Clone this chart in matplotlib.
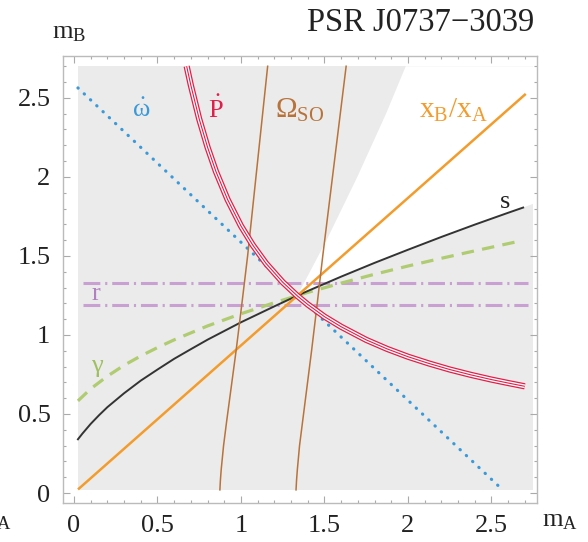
import numpy as np
import matplotlib.pyplot as plt
from matplotlib.ticker import MultipleLocator, FixedLocator, FixedFormatter

plt.rcParams['font.family'] = ['Liberation Serif', 'DejaVu Serif']
plt.rcParams['mathtext.fontset'] = 'custom'
plt.rcParams['mathtext.rm'] = 'Liberation Serif'
plt.rcParams['mathtext.it'] = 'Liberation Serif:italic'
plt.rcParams['mathtext.bf'] = 'Liberation Serif:bold'

# omega-dot: total mass line
omdot_mA = [0.024, 2.567]
omdot_mB = [2.563, 0.02]

# P-dot (orbital decay)
pdot_mA = [0.675, 0.70, 0.75, 0.80, 0.85, 0.92, 1.00, 1.07, 1.15, 1.25, 1.338,
           1.40, 1.50, 1.60, 1.75, 1.875, 2.00, 2.125, 2.25, 2.375, 2.50, 2.60, 2.70]
pdot_mB = [2.70, 2.58, 2.367, 2.188, 2.035, 1.857, 1.69, 1.57, 1.453, 1.334, 1.247,
           1.193, 1.116, 1.052, 0.969, 0.912, 0.8625, 0.82, 0.7815, 0.748, 0.7177, 0.696, 0.675]

# Omega_SO: two bounding curves
so_mB = [0.02, 0.08, 0.15, 0.3, 0.45, 0.6, 0.9, 1.2, 1.5, 1.8, 2.1, 2.4, 2.7]
so_lo_mA = [0.874, 0.877, 0.882, 0.896, 0.914, 0.933, 0.971, 1.006, 1.04, 1.07, 1.10, 1.13, 1.16]
so_hi_mA = [1.330, 1.333, 1.338, 1.351, 1.369, 1.387, 1.423, 1.457, 1.49, 1.525, 1.56, 1.595, 1.63]

# mass ratio x_B/x_A
ratio_mA = [0.03, 2.70]
ratio_mB = [0.028, 2.52]

# Shapiro s
s_mA = [0.024, 0.05, 0.1, 0.15, 0.2, 0.3, 0.4, 0.5, 0.6, 0.7, 0.8, 1.0, 1.2, 1.338, 1.4,
        1.6, 1.8, 2.0, 2.2, 2.4, 2.6, 2.69]
s_mB = [0.34, 0.375, 0.437, 0.492, 0.543, 0.631, 0.711, 0.781, 0.849, 0.91, 0.97, 1.08,
        1.181, 1.249, 1.278, 1.369, 1.456, 1.539, 1.62, 1.698, 1.773, 1.806]

# gamma
gam_mA = [0.024, 0.1, 0.2, 0.3, 0.4, 0.5, 0.6, 0.8, 1.0, 1.2, 1.4, 1.6, 1.8, 2.0, 2.2, 2.4, 2.64]
gam_mB = [0.583, 0.659, 0.739, 0.808, 0.867, 0.92, 0.969, 1.057, 1.134, 1.204, 1.269, 1.328,
          1.384, 1.436, 1.485, 1.532, 1.587]

# r (Shapiro range) bounds
r_mA = [0.054, 2.72]
r_lo = 1.19
r_hi = 1.33

# allowed (white) wedge: left edge from mass function of B
wedge_left_mA = [1.338, 1.513, 1.697, 1.869, 1.987]
wedge_left_mB = [1.249, 1.6, 2.0, 2.4, 2.70]

xticks = [0, 0.5, 1, 1.5, 2, 2.5]
xtick_labels = ['0', '0.5', '1', '1.5', '2', '2.5']
yticks = [0, 0.5, 1, 1.5, 2, 2.5]
ytick_labels = ['0', '0.5', '1', '1.5', '2', '2.5']

fig = plt.figure(figsize=(5.88, 5.42), dpi=100)
ax = fig.add_axes([0.107, 0.072, 0.806, 0.825])
ax.set_xlim(-0.066, 2.772)
ax.set_ylim(-0.063, 2.766)

# shaded excluded region
ax.fill([0.024, 2.75, 2.75, 0.024], [0.02, 0.02, 2.70, 2.70], color='#ebebeb', lw=0, zorder=0)
wx = [m for m in s_mA if m >= 1.338] + [2.75, 2.75] + wedge_left_mA[::-1]
wy = [s_mB[i] for i, m in enumerate(s_mA) if m >= 1.338] + [1.83, 2.70] + wedge_left_mB[::-1]
ax.fill(wx, wy, color='white', lw=0, zorder=0.5)

# curves
ax.plot(omdot_mA, omdot_mB, color='#3a9ad9', lw=2.3, ls=(0, (0.1, 2.6)),
        dash_capstyle='round', zorder=3)
ax.plot(r_mA, [r_hi, r_hi], color='#c9a0d2', lw=2.2, ls=(0, (5.5, 1.6, 0.7, 1.6)), zorder=2)
ax.plot(r_mA, [r_lo, r_lo], color='#c9a0d2', lw=2.2, ls=(0, (5.5, 1.6, 0.7, 1.6)), zorder=2)
ax.plot(gam_mA, gam_mB, color='#b0cc70', lw=2.3, ls=(0, (3.9, 2.6)), zorder=2)
ax.plot(s_mA, s_mB, color='#333333', lw=1.4, zorder=4)
ax.plot(ratio_mA, ratio_mB, color='#f39c2b', lw=1.8, zorder=4)
ax.plot(so_lo_mA, so_mB, color='#b8733a', lw=1.1, zorder=4)
ax.plot(so_hi_mA, so_mB, color='#b8733a', lw=1.1, zorder=4)
ax.plot(pdot_mA, pdot_mB, color='#e0204a', lw=4.5, zorder=5, solid_capstyle='butt')
ax.plot(pdot_mA, pdot_mB, color='white', lw=2.7, zorder=5, solid_capstyle='butt')
ax.plot(pdot_mA, pdot_mB, color='#e0204a', lw=0.8, zorder=5, solid_capstyle='butt')

# labels on curves
ax.text(0.40, 2.42, r'$\dot{\mathrm{\omega}}$', color='#3a9ad9', fontsize=19, ha='center', va='center')
ax.text(0.85, 2.43, r'$\dot{\mathrm{P}}$', color='#e0204a', fontsize=19, ha='center', va='center')
ax.text(1.35, 2.42, r'$\Omega_{\mathrm{SO}}$', color='#b8733a', fontsize=21, ha='center', va='center')
ax.text(2.27, 2.42, r'$\mathrm{x_B/x_A}$', color='#f39c2b', fontsize=21, ha='center', va='center')
ax.text(2.58, 1.84, 's', color='#222222', fontsize=19, ha='center', va='center')
ax.text(0.14, 0.79, r'$\mathrm{\gamma}$', color='#a0c060', fontsize=19, ha='center', va='center')
ax.text(0.13, 1.26, 'r', color='#b080c0', fontsize=19, ha='center', va='center')

# frame and ticks
for sp in ax.spines.values():
    sp.set_color('#bbbbbb')
    sp.set_linewidth(1.0)
ax.xaxis.set_major_locator(FixedLocator(xticks))
ax.xaxis.set_major_formatter(FixedFormatter(xtick_labels))
ax.yaxis.set_major_locator(FixedLocator(yticks))
ax.yaxis.set_major_formatter(FixedFormatter(ytick_labels))
ax.xaxis.set_minor_locator(MultipleLocator(0.1))
ax.yaxis.set_minor_locator(MultipleLocator(0.1))
ax.tick_params(which='both', direction='in', top=True, right=True, color='#aaaaaa',
               labelcolor='#222222', labelsize=19, width=0.8)
ax.tick_params(which='major', length=5, pad=9)
ax.tick_params(which='minor', length=2.5)

fig.text(0.716, 0.958, 'PSR J0737\u22123039', fontsize=23.5, ha='center', va='center', color='#222222')
fig.text(0.088, 0.94, r'$\mathrm{m_B}$', fontsize=19, ha='left', va='center', color='#222222')
fig.text(0.922, 0.038, r'$\mathrm{m_A}$', fontsize=19, ha='left', va='center', color='#222222')
fig.text(-0.04, 0.038, r'$\mathrm{m_A}$', fontsize=19, ha='left', va='center', color='#222222')

fig.savefig('out.png', dpi=100)
